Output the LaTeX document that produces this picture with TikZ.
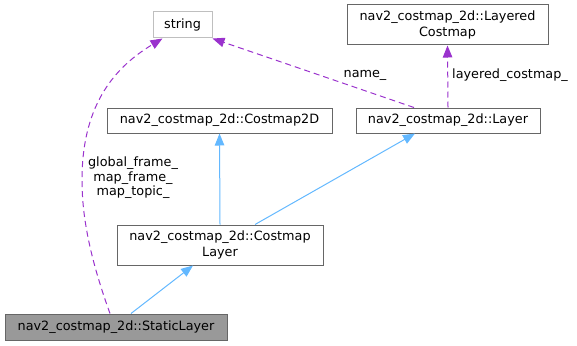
\documentclass[tikz,border=0pt]{standalone}
\usepackage{fontspec}
\setmainfont{DejaVu Sans}
\usetikzlibrary{arrows.meta}
\definecolor{edgeblue}{HTML}{63B8FF}
\definecolor{edgepurple}{HTML}{9A32CD}
\definecolor{boxgray}{HTML}{666666}
\definecolor{lightgray}{HTML}{BFBFBF}
\definecolor{fillgray}{HTML}{999999}
\begin{document}
\begin{tikzpicture}[x=1pt,y=-1pt,
  every node/.style={font=\fontsize{12.8}{15.5}\selectfont, text=black},
  cls/.style={draw=boxgray, line width=1pt, fill=white, inner sep=0pt, align=center},
  extcls/.style={cls, draw=lightgray},
  curcls/.style={cls, fill=fillgray},
  inherit/.style={draw=edgeblue, line width=1pt, -{Triangle[length=12pt,width=9.5pt]}},
  usage/.style={draw=edgepurple, line width=1pt, dash pattern=on 6pt off 4pt,
    -{Triangle[length=12pt,width=9.5pt,fill=edgepurple]}},
  elabel/.style={font=\fontsize{12.8}{14.5}\selectfont, inner sep=0pt}]
\useasboundingbox (0,0) rectangle (577,345);

% class boxes
\node[extcls, minimum width=59pt, minimum height=26pt] (str) at (182.5,25) {string};
\node[cls, minimum width=201pt, minimum height=40pt] (lcm) at (447.5,25) {nav2\_costmap\_2d::Layered\\Costmap};
\node[cls, minimum width=184pt, minimum height=25pt] (layer) at (448,120.5) {nav2\_costmap\_2d::Layer};
\node[cls, minimum width=225pt, minimum height=25pt] (c2d) at (219.5,120.5) {nav2\_costmap\_2d::Costmap2D};
\node[cls, minimum width=206pt, minimum height=40pt] (cml) at (220,245) {nav2\_costmap\_2d::Costmap\\Layer};
\node[curcls, minimum width=222pt, minimum height=26pt] (sl) at (116,327) {nav2\_costmap\_2d::StaticLayer};

% inheritance
\draw[inherit] (cml.north) -- (c2d.south);
\draw[inherit] ([xshift=35pt]cml.north) -- ([xshift=-33pt]layer.south);
\draw[inherit] ([xshift=15pt]sl.north) -- ([xshift=-27pt]cml.south);

% usage relations
\draw[usage] (layer.north) -- (lcm.south);
\node[elabel, anchor=west] (lbllcm) at (452,75) {layered\_costmap\_};

\draw[usage] ([xshift=-34pt]layer.north) -- (str.south east);
\node[elabel] (lblname) at (365,75) {name\_};

\draw[usage] ([xshift=-6pt]sl.north) .. controls (87,250) and (82,210) .. (82,180)
  .. controls (82,110) and (110,70) .. ([xshift=-20pt]str.south);
\node[elabel, align=center] (lblframe) at (133,178) {global\_frame\_\\map\_frame\_\\map\_topic\_};
\end{tikzpicture}
\end{document}
